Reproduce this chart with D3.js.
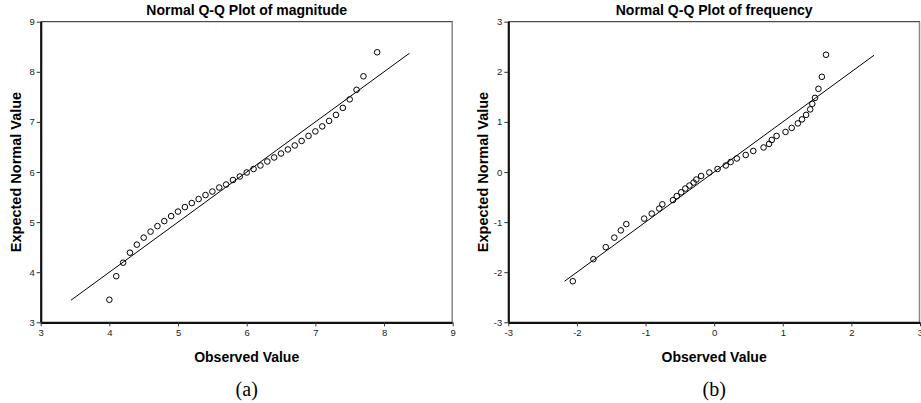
<!DOCTYPE html>
<html>
<head>
<meta charset="utf-8">
<script src="https://cdn.jsdelivr.net/npm/d3@7"></script>
<style>
  body { margin: 0; background: #fff; }
  svg { display: block; }
</style>
</head>
<body>
<svg class="svg" width="921" height="403"></svg>
<script>
// (a) magnitude
const magObserved = [4.0, 4.1, 4.2, 4.3, 4.4, 4.5, 4.6, 4.7, 4.8, 4.9, 5.0, 5.1, 5.2, 5.3, 5.4, 5.5, 5.6, 5.7, 5.8, 5.9,
  6.0, 6.1, 6.2, 6.3, 6.4, 6.5, 6.6, 6.7, 6.8, 6.9, 7.0, 7.1, 7.2, 7.3, 7.4, 7.5, 7.6, 7.7, 7.9];
const magExpected = [3.45, 3.92, 4.19, 4.39, 4.55, 4.69, 4.81, 4.92, 5.02, 5.12, 5.21, 5.30, 5.38, 5.46, 5.54, 5.61, 5.69, 5.75, 5.84, 5.91,
  5.99, 6.06, 6.13, 6.21, 6.29, 6.37, 6.45, 6.53, 6.62, 6.72, 6.81, 6.91, 7.02, 7.14, 7.28, 7.45, 7.64, 7.91, 8.39];
const magLine = [3.44, 8.37];
const magTicks = [3, 4, 5, 6, 7, 8, 9];

// (b) frequency
const freqObserved = [-2.06, -1.76, -1.58, -1.455, -1.36, -1.28, -1.02, -0.91, -0.80, -0.755, -0.60, -0.545, -0.48, -0.42, -0.36,
  -0.30, -0.26, -0.19, -0.07, 0.05, 0.17, 0.24, 0.33, 0.46, 0.57, 0.72, 0.80, 0.84, 0.91, 1.04, 1.13, 1.22, 1.28, 1.34, 1.40,
  1.43, 1.47, 1.52, 1.57, 1.63];
const freqExpected = [-2.18, -1.74, -1.50, -1.31, -1.165, -1.04, -0.93, -0.83, -0.73, -0.645, -0.56, -0.48, -0.405, -0.33, -0.27,
  -0.21, -0.15, -0.08, -0.01, 0.06, 0.13, 0.20, 0.27, 0.34, 0.42, 0.49, 0.56, 0.64, 0.72, 0.80, 0.88, 0.97, 1.05, 1.14, 1.25,
  1.36, 1.48, 1.66, 1.90, 2.34];
const freqLine = [-2.18, 2.33];
const freqTicks = [-3, -2, -1, 0, 1, 2, 3];

const svg = d3.select('.svg');
const plotTop = 21.7, plotBottom = 322.3;

function drawPanel(opts) {
  const { left, right, ticks, observed, expected, line, title, caption } = opts;
  const dom = [ticks[0], ticks[ticks.length - 1]];
  const x = d3.scaleLinear().domain(dom).range([left, right]);
  const y = d3.scaleLinear().domain(dom).range([plotBottom, plotTop]);
  const g = svg.append('g');
  const fmt = d => String(d); // plain hyphen minus, as in the original

  // top + right frame
  g.append('line')
    .attr('x1', left).attr('x2', right).attr('y1', plotTop).attr('y2', plotTop)
    .attr('stroke', '#222').attr('stroke-width', 1);
  g.append('line')
    .attr('x1', right - 0.5).attr('x2', right - 0.5).attr('y1', plotTop).attr('y2', plotBottom)
    .attr('stroke', '#888').attr('stroke-width', 1.5);

  const yAxis = g.append('g')
    .attr('transform', `translate(${left},0)`)
    .call(d3.axisLeft(y).tickValues(ticks).tickSize(4).tickPadding(2).tickFormat(fmt));
  const xAxis = g.append('g')
    .attr('transform', `translate(0,${plotBottom})`)
    .call(d3.axisBottom(x).tickValues(ticks).tickSize(4).tickPadding(3).tickFormat(fmt));

  [yAxis, xAxis].forEach(a => {
    a.select('.domain').attr('stroke', '#111').attr('stroke-width', 2.2);
    a.selectAll('.tick line').attr('stroke', '#333');
    a.selectAll('.tick text')
      .attr('fill', '#222')
      .style('font', '9.5px "Liberation Sans", Arial, sans-serif');
  });
  // plain axis lines without the end stubs
  yAxis.select('.domain').attr('d', `M0.5,${plotBottom}V${plotTop}`);
  xAxis.select('.domain').attr('d', `M${left},0.5H${right}`);

  // reference line
  g.append('line')
    .attr('x1', x(line[0])).attr('y1', y(line[0]))
    .attr('x2', x(line[1])).attr('y2', y(line[1]))
    .attr('stroke', '#000').attr('stroke-width', 1);

  // points
  g.append('g')
    .selectAll('circle')
    .data(observed.map((d, i) => [d, expected[i]]))
    .join('circle')
    .attr('cx', d => x(d[0]))
    .attr('cy', d => y(d[1]))
    .attr('r', 2.8)
    .attr('fill', 'none')
    .attr('stroke', '#000')
    .attr('stroke-width', 1);

  const cx = (left + right) / 2;
  g.append('text')
    .attr('x', cx).attr('y', 15)
    .attr('text-anchor', 'middle')
    .style('font', 'bold 14px "Liberation Sans", Arial, sans-serif')
    .text(title);
  g.append('text')
    .attr('x', cx).attr('y', 361.5)
    .attr('text-anchor', 'middle')
    .style('font', 'bold 14px "Liberation Sans", Arial, sans-serif')
    .text('Observed Value');
  g.append('text')
    .attr('transform', `translate(${left - 20},${(plotTop + plotBottom) / 2}) rotate(-90)`)
    .attr('text-anchor', 'middle')
    .style('font', 'bold 14.5px "Liberation Sans", Arial, sans-serif')
    .text('Expected Normal Value');
  g.append('text')
    .attr('x', cx).attr('y', 396)
    .attr('text-anchor', 'middle')
    .style('font', '20px "Liberation Serif", "Times New Roman", serif')
    .text(caption);
}

drawPanel({
  left: 40.7, right: 452.7, ticks: magTicks,
  observed: magObserved, expected: magExpected, line: magLine,
  title: 'Normal Q-Q Plot of magnitude', caption: '(a)'
});
drawPanel({
  left: 508.3, right: 920, ticks: freqTicks,
  observed: freqObserved, expected: freqExpected, line: freqLine,
  title: 'Normal Q-Q Plot of frequency', caption: '(b)'
});
</script>
</body>
</html>
